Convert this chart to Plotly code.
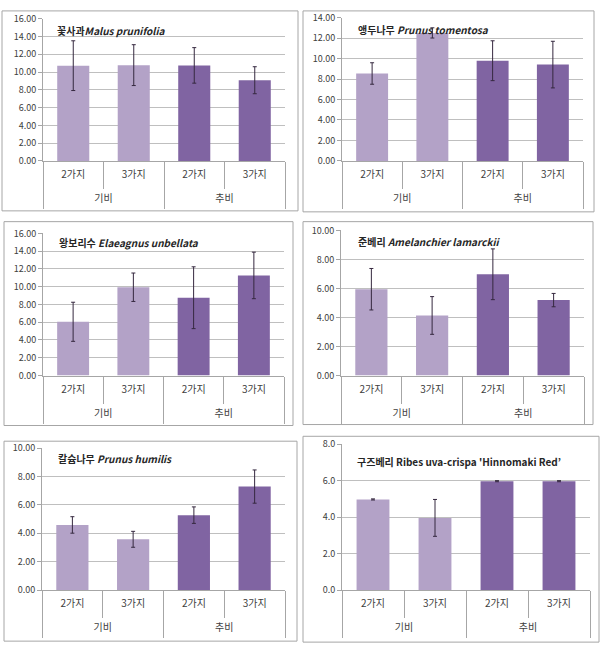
import plotly.graph_objects as go

W, H = 610, 654

groups = ["기비", "기비", "추비", "추비"]
subs = ["2가지", "3가지", "2가지", "3가지"]

titles = [
    "<b>꽃사과<i>Malus prunifolia</i></b>",
    "<b>앵두나무 <i>Prunus tomentosa</i></b>",
    "<b>왕보리수 <i>Elaeagnus unbellata</i></b>",
    "<b>준베리 <i>Amelanchier lamarckii</i></b>",
    "<b>칼슘나무 <i>Prunus humilis</i></b>",
    "<b>구즈베리 Ribes uva-crispa 'Hinnomaki Red’</b>",
]

values = [
    [10.72, 10.78, 10.75, 9.08],
    [8.55, 12.52, 9.80, 9.42],
    [6.05, 9.94, 8.76, 11.27],
    [5.95, 4.14, 6.98, 5.20],
    [4.59, 3.58, 5.28, 7.29],
    [4.97, 3.96, 5.97, 5.97],
]
errors = [
    [2.80, 2.30, 2.00, 1.52],
    [1.05, 0.50, 1.95, 2.28],
    [2.20, 1.60, 3.48, 2.62],
    [1.43, 1.30, 1.75, 0.46],
    [0.58, 0.56, 0.58, 1.17],
    [0.03, 1.01, 0.03, 0.03],
]
y_max = [16, 14, 16, 10, 10, 8]
y_fmt = [".2f", ".2f", ".2f", ".2f", ".2f", ".1f"]

# layout (pixels): plot area (x0, x1, ytop, ybottom), outer box (x0, x1, y0, y1), title pos
plot_px = [
    (43, 285, 12, 157),
    (342, 583, 11, 157),
    (43, 284, 231, 376),
    (341, 584, 228, 376),
    (42, 285, 450, 595),
    (342, 590, 446, 595),
]
box_px = [
    (2, 298, 4, 208),
    (303, 594, 4, 209),
    (4, 293, 219, 427),
    (303, 593, 219, 426),
    (4, 297, 443, 647),
    (303, 599, 438, 648),
]
title_px = [(55, 24), (356, 23), (57, 240), (356, 239), (56, 461), (355, 464)]

light = "#B3A2C7"
dark = "#8064A2"
colors = [light if g == "기비" else dark for g in groups]
LINE = "#A6A6A6"

FONT = "Noto Sans CJK KR, Noto Sans, sans-serif"

# category positions derived from the category lists
pos = list(range(len(subs)))
sub_bounds = [p - 0.5 for p in pos] + [pos[-1] + 0.5]
group_names = []
group_pos = []
group_bounds = [-0.5]
for g in groups:
    if g not in group_names:
        group_names.append(g)
for g in group_names:
    idx = [k for k, gg in enumerate(groups) if gg == g]
    group_pos.append((idx[0] + idx[-1]) / 2)
    group_bounds.append(idx[-1] + 0.5)
xr = [-0.5, len(subs) - 0.5]

fig = go.Figure()
layout = {}
shapes = []
annotations = []

for i in range(6):
    n = "" if i == 0 else str(i + 1)
    gn = str(i + 7)
    fig.add_trace(go.Bar(
        x=pos,
        y=values[i],
        marker=dict(color=colors, line=dict(width=0)),
        error_y=dict(type="data", array=errors[i], visible=True,
                     color="#35283F", thickness=1, width=2),
        xaxis="x" + n, yaxis="y" + n,
        showlegend=False, hoverinfo="skip",
    ))
    # invisible helper trace so the group-label axis is drawn
    fig.add_trace(go.Scatter(
        x=group_pos, y=[0] * len(group_pos), mode="markers",
        marker=dict(opacity=0, size=1),
        xaxis="x" + gn, yaxis="y" + n,
        showlegend=False, hoverinfo="skip",
    ))
    x0, x1, yt, yb = plot_px[i]
    layout["xaxis" + n] = dict(
        domain=[x0 / W, x1 / W],
        anchor="y" + n,
        range=xr,
        tickmode="array", tickvals=pos, ticktext=subs,
        ticks="",
        minor=dict(tickmode="array", tickvals=sub_bounds, ticks="outside",
                   ticklen=27, tickcolor=LINE, tickwidth=1, showgrid=False),
        showline=True, linecolor=LINE, linewidth=1,
        tickfont=dict(family=FONT, size=10, color="#404040"),
        ticklabelstandoff=4,
        showgrid=False, zeroline=False, fixedrange=True,
    )
    layout["xaxis" + gn] = dict(
        domain=[x0 / W, x1 / W],
        anchor="y" + n,
        overlaying="x" + n,
        side="bottom",
        range=xr,
        tickmode="array", tickvals=group_pos, ticktext=group_names,
        ticks="",
        minor=dict(tickmode="array", tickvals=group_bounds, ticks="outside",
                   ticklen=47, tickcolor=LINE, tickwidth=1, showgrid=False),
        showline=False,
        tickfont=dict(family=FONT, size=10, color="#404040"),
        ticklabelstandoff=30,
        showgrid=False, zeroline=False, fixedrange=True,
    )
    layout["yaxis" + n] = dict(
        domain=[1 - yb / H, 1 - yt / H],
        anchor="x" + n,
        range=[0, y_max[i]],
        dtick=2,
        tickformat=y_fmt[i],
        showline=True, linecolor=LINE, linewidth=1,
        ticks="outside", ticklen=4, tickcolor=LINE,
        showgrid=True, gridcolor="#BFBFBF", gridwidth=1,
        zeroline=False, fixedrange=True,
        tickfont=dict(family=FONT, size=9, color="#404040"),
    )
    bx0, bx1, by0, by1 = box_px[i]
    shapes.append(dict(type="rect", xref="paper", yref="paper",
                       x0=bx0 / W, x1=bx1 / W, y0=1 - by1 / H, y1=1 - by0 / H,
                       line=dict(color=LINE, width=1), layer="below"))
    tx, ty = title_px[i]
    annotations.append(dict(text=titles[i], xref="paper", yref="paper",
                            x=tx / W, y=1 - ty / H, xanchor="left", yanchor="middle",
                            showarrow=False,
                            font=dict(family=FONT, size=10, color="#262626")))

fig.update_layout(
    width=W, height=H,
    margin=dict(l=0, r=0, t=0, b=0),
    paper_bgcolor="white", plot_bgcolor="white",
    bargap=0.47,
    shapes=shapes, annotations=annotations,
    **layout,
)

fig.write_html("out.html", config={"displayModeBar": False},
               post_script="document.body.style.margin='0';document.body.style.overflow='hidden';")
